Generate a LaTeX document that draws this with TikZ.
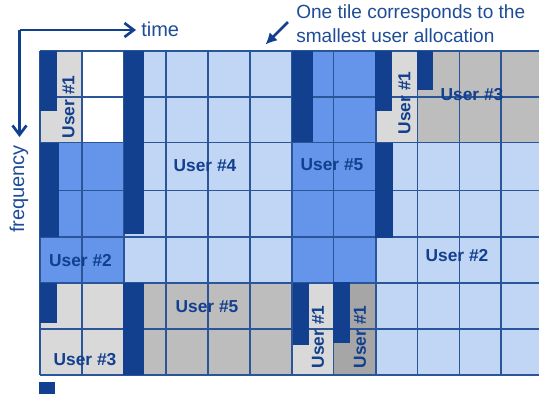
\documentclass[tikz,border=0pt]{standalone}
\usepackage{fontspec}
\setmainfont{Liberation Sans}
\usetikzlibrary{arrows.meta}
\definecolor{dk}{HTML}{123F8E}
\definecolor{lb}{HTML}{C1D5F5}
\definecolor{mb}{HTML}{6495EA}
\definecolor{lg}{HTML}{D9D9D9}
\definecolor{mg}{HTML}{BDBDBD}
\definecolor{dg}{HTML}{A6A6A6}
\definecolor{gl}{HTML}{2A5599}
\definecolor{tx}{HTML}{1F4C96}
\tikzset{
 x=0.75pt,y=-0.75pt,
 pilot/.style={fill=dk,draw=none},
 lab/.style={text=dk,font=\fontsize{13}{15}\selectfont\bfseries,inner sep=0},
 ann/.style={text=tx,inner sep=0,font=\fontsize{14.3}{17}\selectfont},
 axt/.style={text=tx,inner sep=0,font=\fontsize{15}{17}\selectfont},
 axisline/.style={draw=dk,line width=2pt,-{Straight Barb[length=7pt,width=10.5pt,line width=2pt]}},
}
\begin{document}
\begin{tikzpicture}
\useasboundingbox (0,0) rectangle (539,394);
\clip (0,0) rectangle (539,394);
% fills
\fill[lb] (40,51) rectangle (539,375);
\fill[lg] (40,51) rectangle (82,142.5);
\fill[white] (82,51) rectangle (124,142.5);
\fill[mb] (40,142.5) rectangle (124,283);
\fill[mb] (292,51) rectangle (376,283);
\fill[lg] (376,51) rectangle (417.5,142.5);
\fill[mg] (417.5,51) rectangle (539,142.5);
\fill[lg] (40,283) rectangle (124,375);
\fill[mg] (124,283) rectangle (292,375);
\fill[lg] (292,283) rectangle (333.5,375);
\fill[dg] (333.5,283) rectangle (376,375);
% grid
\foreach \x in {40,82,124,166,208,250,292,333.5,376,417.5,459.5,501}
  \draw[gl,line width=1pt] (\x,51) -- (\x,375);
\foreach \y in {51,97,142.5,190.5,237,283,329,375}
  \draw[gl,line width=1pt] (40,\y) -- (539,\y);
% pilots
\fill[pilot] (40,51) rectangle (57,111);
\fill[pilot] (124,51) rectangle (144,234);
\fill[pilot] (40,142.5) rectangle (59,237);
\fill[pilot] (292,51) rectangle (313,142);
\fill[pilot] (375,51) rectangle (392,111);
\fill[pilot] (417,51) rectangle (433,90);
\fill[pilot] (375,142.5) rectangle (393,238);
\fill[pilot] (40,283) rectangle (57,323);
\fill[pilot] (123,283) rectangle (144,375);
\fill[pilot] (293,283) rectangle (309,345);
\fill[pilot] (333,282) rectangle (350,343);
\fill[pilot] (39,382) rectangle (55,394);
% labels
\node[lab,rotate=90] (u1a) at (68.5,107) {User \#1};
\node[lab,rotate=90] (u1b) at (404.5,103) {User \#1};
\node[lab,rotate=90] (u1c) at (318,337) {User \#1};
\node[lab,rotate=90] (u1d) at (360,337) {User \#1};
\node[lab] (u4) at (205,166) {User \#4};
\node[lab] (u5a) at (332,165) {User \#5};
\node[lab] (u3a) at (472,95) {User \#3};
\node[lab] (u2a) at (80.5,261) {User \#2};
\node[lab] (u2b) at (457,256) {User \#2};
\node[lab] (u5b) at (207,307) {User \#5};
\node[lab] (u3b) at (85,360) {User \#3};
% axes
\coordinate (o) at (19.5,30);
\coordinate (te) at (136,30);
\coordinate (fe) at (19.5,137);
\draw[axisline] (o) -- (te);
\draw[axisline] (o) -- (fe);
\node[axt,anchor=west] (time) at (141,29.5) {time};
\node[axt,rotate=90] (freq) at (19,189) {frequency};
\node[ann,anchor=west] (t1) at (296,14) {One tile corresponds to the};
\node[ann,anchor=west] (t2) at (296,36) {smallest user allocation};
\coordinate (as) at (288,22);
\coordinate (ae) at (265.5,44.5);
\draw[draw=dk,line width=2pt,-{Latex[length=8.5pt,width=8.5pt]}] (as) -- (ae);
\end{tikzpicture}
\end{document}
